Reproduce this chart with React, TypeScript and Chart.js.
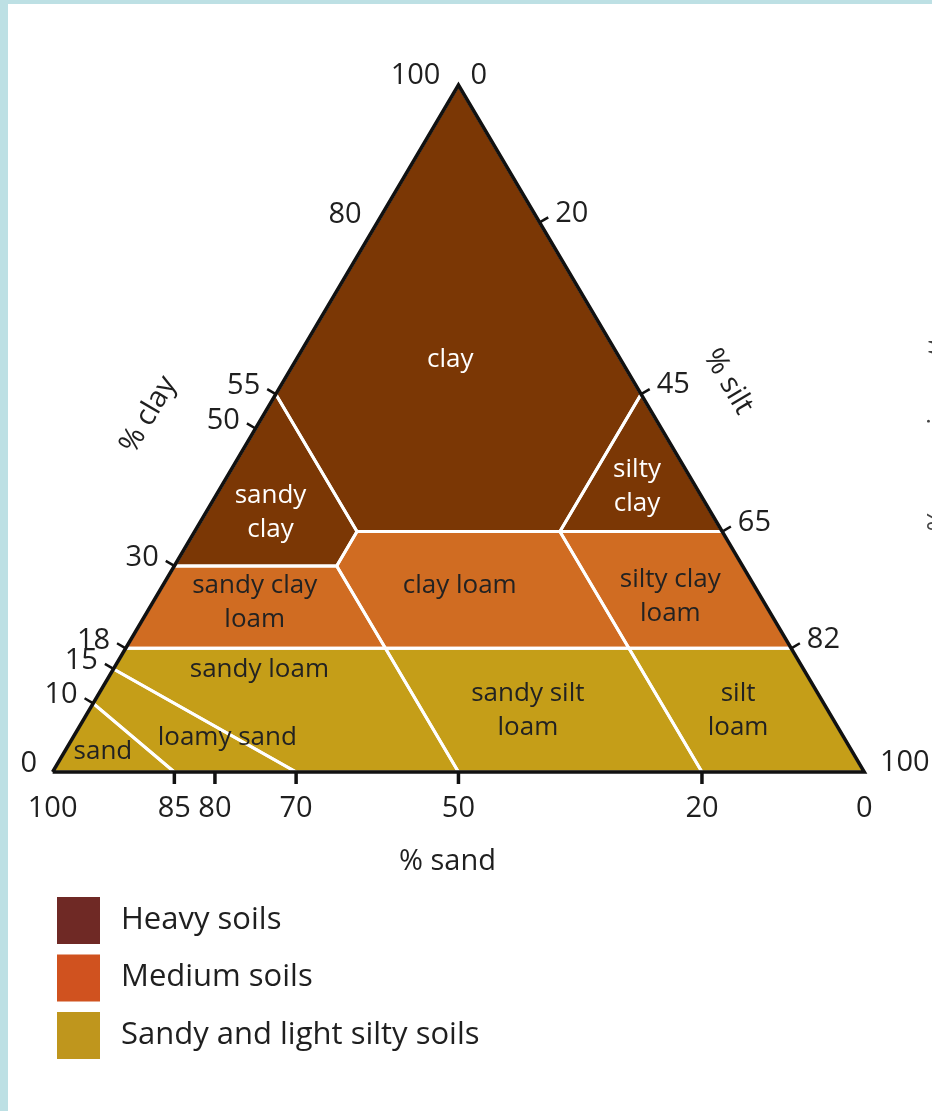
import React, { useEffect, useRef } from "react";
import { Chart, registerables } from "chart.js";

Chart.register(...registerables);

// ---- data: corners of each texture class as [sand %, clay %] ----
const clayCorners = [[0, 100], [45, 55], [45, 35], [20, 35], [0, 55]];
const sandyClayCorners = [[45, 55], [70, 30], [50, 30], [45, 35]];
const siltyClayCorners = [[20, 35], [0, 55], [0, 35]];
const sandyClayLoamCorners = [[70, 30], [82, 18], [50, 18], [50, 30]];
const clayLoamCorners = [[45, 35], [50, 30], [50, 18], [20, 18], [20, 35]];
const siltyClayLoamCorners = [[20, 35], [20, 18], [0, 18], [0, 35]];
const sandyLoamCorners = [[82, 18], [85, 15], [70, 0], [50, 0], [50, 18]];
const loamySandCorners = [[85, 15], [90, 10], [85, 0], [70, 0]];
const sandCorners = [[90, 10], [100, 0], [85, 0]];
const sandySiltLoamCorners = [[50, 18], [50, 0], [20, 0], [20, 18]];
const siltLoamCorners = [[20, 18], [20, 0], [0, 0], [0, 18]];
const triangleCorners = [[100, 0], [0, 100], [0, 0]];

const regionNames = [
  "clay", "sandy\nclay", "silty\nclay",
  "sandy clay\nloam", "clay loam", "silty clay\nloam",
  "sandy loam", "loamy sand", "sand", "sandy silt\nloam", "silt\nloam",
];
const regionCorners = [
  clayCorners, sandyClayCorners, siltyClayCorners,
  sandyClayLoamCorners, clayLoamCorners, siltyClayLoamCorners,
  sandyLoamCorners, loamySandCorners, sandCorners, sandySiltLoamCorners, siltLoamCorners,
];
const regionGroup = [0, 0, 0, 1, 1, 1, 2, 2, 2, 2, 2];

// tick values
const clayTickMarks = [55, 50, 30, 18, 15, 10];
const clayTickLabels = [80, 55, 50, 30, 18, 15, 10, 0];
const siltTickMarks = [20, 45, 65, 82];
const siltTickLabels = [20, 45, 65, 82, 100];
const sandTickMarks = [85, 80, 70, 50, 20];
const sandTickLabels = [100, 85, 80, 70, 50, 20, 0];
const legendLabels = ["Heavy soils", "Medium soils", "Sandy and light silty soils"];

// ---- styling / layout ----
const CHART_FILL = ["#7b3705", "#d06c22", "#c59e18"];
const LEGEND_FILL = ["#6f2925", "#d0521f", "#bf961d"];
const LABEL_COLOR = ["#ffffff", "#222222", "#222222"];
const TEXT = "#1f1f1f";
const FONT = '"Open Sans", sans-serif';
// label anchors in [sand, clay]
const labelAnchors = [
  [21, 60], [54.3, 37.7], [7.2, 41.6],
  [62.8, 24.6], [36.3, 27.1], [11.1, 25.6],
  [67.1, 14.85], [76, 4.95], [92.35, 2.9], [37, 8.9], [11.1, 8.9],
];

const toPoint = (sand: number, clay: number) => ({ x: 100 - sand - clay / 2, y: clay });

const overlay = {
  id: "ternaryOverlay",
  afterDatasetsDraw(chart: any) {
    const { ctx } = chart;
    const xs = chart.scales.x;
    const ys = chart.scales.y;
    const px = (sand: number, clay: number) => {
      const p = toPoint(sand, clay);
      return [xs.getPixelForValue(p.x), ys.getPixelForValue(p.y)];
    };
    const L = px(100, 0), A = px(0, 100), R = px(0, 0);
    const unit = (dx: number, dy: number) => {
      const d = Math.hypot(dx, dy);
      return [dx / d, dy / d];
    };
    const le = unit(A[0] - L[0], A[1] - L[1]);
    const nL = [le[1], -le[0]]; // outward normal left edge
    const re = unit(R[0] - A[0], R[1] - A[1]);
    const nR = [re[1], -re[0]]; // outward normal right edge
    const TICK = 10;

    ctx.save();
    // region labels
    ctx.textAlign = "center";
    ctx.textBaseline = "middle";
    ctx.font = `26px ${FONT}`;
    regionNames.forEach((name, i) => {
      const [cx, cy] = px(labelAnchors[i][0], labelAnchors[i][1]);
      const lines = name.split("\n");
      ctx.fillStyle = LABEL_COLOR[regionGroup[i]];
      lines.forEach((ln, k) => {
        ctx.fillText(ln, cx, cy + (k - (lines.length - 1) / 2) * 34);
      });
    });

    ctx.strokeStyle = "#111";
    ctx.fillStyle = TEXT;
    ctx.lineWidth = 2.5;
    ctx.lineCap = "butt";
    ctx.font = `29px ${FONT}`;

    // bottom axis (% sand)
    sandTickMarks.forEach((s) => {
      const [x, y] = px(s, 0);
      ctx.lineWidth = 3.5;
      ctx.beginPath();
      ctx.moveTo(x, y);
      ctx.lineTo(x, y + 12);
      ctx.stroke();
    });
    ctx.textAlign = "center";
    sandTickLabels.forEach((s) => {
      const [x, y] = px(s, 0);
      ctx.fillText(String(s), x, y + 37);
    });
    ctx.fillText("% sand", (L[0] + R[0]) / 2 - 11, L[1] + 90);

    // left edge (% clay)
    ctx.lineWidth = 2.5;
    clayTickMarks.forEach((c) => {
      const [x, y] = px(100 - c, c);
      ctx.beginPath();
      ctx.moveTo(x, y);
      ctx.lineTo(x + nL[0] * TICK, y + nL[1] * TICK);
      ctx.stroke();
    });
    ctx.textAlign = "right";
    clayTickLabels.forEach((c) => {
      const [x, y] = px(100 - c, c);
      const ex = x + nL[0] * TICK, ey = y + nL[1] * TICK;
      ctx.fillText(String(c), ex - 7, ey - 3);
    });
    // apex labels
    ctx.fillText("100", A[0] - 18, A[1] - 9);
    ctx.textAlign = "left";
    ctx.fillText("0", A[0] + 12, A[1] - 9);

    // right edge (% silt)
    siltTickMarks.forEach((s) => {
      const [x, y] = px(0, 100 - s);
      ctx.beginPath();
      ctx.moveTo(x, y);
      ctx.lineTo(x + nR[0] * TICK, y + nR[1] * TICK);
      ctx.stroke();
    });
    siltTickLabels.forEach((s) => {
      const [x, y] = px(0, 100 - s);
      const ex = x + nR[0] * TICK, ey = y + nR[1] * TICK;
      ctx.fillText(String(s), ex + 7, ey - 4);
    });

    // rotated axis titles
    const angL = Math.atan2(A[1] - L[1], A[0] - L[0]);
    const angR = Math.atan2(R[1] - A[1], R[0] - A[0]);
    ctx.textAlign = "center";
    ctx.save();
    ctx.translate(xs.getPixelForValue(11.8), ys.getPixelForValue(52));
    ctx.rotate(angL);
    ctx.fillText("% clay", 0, 0);
    ctx.restore();
    ctx.save();
    ctx.translate(xs.getPixelForValue(83.2), ys.getPixelForValue(56.8));
    ctx.rotate(angR);
    ctx.fillText("% silt", 0, 0);
    ctx.restore();

    // cut-off neighbouring label at the right edge
    ctx.save();
    ctx.translate(947, 420);
    ctx.rotate(-Math.PI / 2);
    ctx.textBaseline = "alphabetic";
    ctx.fillStyle = "#444";
    ctx.font = `28px ${FONT}`;
    ctx.fillText("% organic matter", 0, 0);
    ctx.restore();

    // legend
    ctx.textAlign = "left";
    ctx.textBaseline = "middle";
    ctx.font = `31px ${FONT}`;
    legendLabels.forEach((lab, i) => {
      const top = 897 + i * 57.5;
      ctx.fillStyle = LEGEND_FILL[i];
      ctx.fillRect(57, top, 43, 47);
      ctx.fillStyle = TEXT;
      ctx.fillText(lab, 121, top + 23);
    });
    ctx.restore();
  },
};

export default function App() {
  const canvasRef = useRef<HTMLCanvasElement | null>(null);

  useEffect(() => {
    const canvas = canvasRef.current;
    if (!canvas) return;
    const close = (pts: number[][]) => [...pts, pts[0]].map(([s, c]) => toPoint(s, c));
    const regionSets = regionNames.map((name, i) => ({
      label: name.replace("\n", " "),
      data: close(regionCorners[i]),
      showLine: true,
      fill: "shape" as const,
      backgroundColor: CHART_FILL[regionGroup[i]],
      borderColor: "#ffffff",
      borderWidth: 3,
      pointRadius: 0,
      tension: 0,
      clip: false as const,
    }));
    const outline = {
      label: "outline",
      data: close(triangleCorners),
      showLine: true,
      fill: false,
      borderColor: "#111111",
      borderWidth: 3.5,
      borderJoinStyle: "miter" as const,
      pointRadius: 0,
      tension: 0,
      clip: false as const,
    };
    const chart = new Chart(canvas, {
      type: "scatter",
      data: { datasets: [outline, ...regionSets] as any },
      options: {
        responsive: false,
        animation: false,
        events: [],
        layout: { padding: { left: 52.6, right: 67.7, top: 85, bottom: 339 } },
        scales: {
          x: { type: "linear", min: 0, max: 100, display: false },
          y: { type: "linear", min: 0, max: 100, display: false },
        },
        plugins: {
          legend: { display: false },
          tooltip: { enabled: false },
          filler: { drawTime: "beforeDatasetsDraw" },
        } as any,
      },
      plugins: [overlay],
    });
    return () => chart.destroy();
  }, []);

  return (
    <div
      style={{
        position: "fixed",
        left: 0,
        top: 0,
        width: 932,
        height: 1111,
        background: "#bde0e4",
        overflow: "hidden",
      }}
    >
      <div style={{ position: "absolute", left: 8, top: 4, right: 0, bottom: 0, background: "#ffffff" }} />
      <canvas
        ref={canvasRef}
        width={932}
        height={1111}
        style={{ position: "absolute", left: 0, top: 0, width: 932, height: 1111 }}
      />
    </div>
  );
}
